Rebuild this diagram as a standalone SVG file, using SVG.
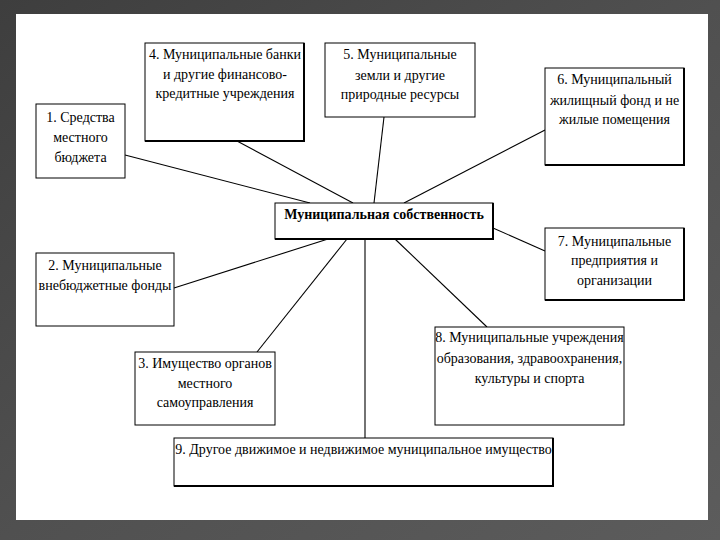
<svg xmlns="http://www.w3.org/2000/svg" width="720" height="540" viewBox="0 0 720 540">
<defs>
<linearGradient id="bg" x1="0" y1="0" x2="1" y2="1">
<stop offset="0" stop-color="#3e3e3e"/>
<stop offset="0.5" stop-color="#505050"/>
<stop offset="1" stop-color="#5c5c5c"/>
</linearGradient>
<style>
.box{fill:#ffffff;stroke:#000;stroke-width:1}
.sh{fill:none;stroke:#000;stroke-width:2}
.t{font-family:"Liberation Serif","Times New Roman",serif;font-size:14px;fill:#000;text-anchor:middle}
.b{font-weight:bold;font-size:14px}
.c line{stroke:#000;stroke-width:1.1}
</style>
</defs>
<rect x="0" y="0" width="720" height="540" fill="url(#bg)"/>
<rect x="16" y="14" width="692" height="506" fill="#ffffff"/>

<g class="c" id="connectors">
<line x1="125" y1="155" x2="310" y2="203"/>
<line x1="237" y1="141" x2="353" y2="203"/>
<line x1="384" y1="117" x2="374" y2="203"/>
<line x1="545" y1="130" x2="404" y2="203"/>
<line x1="493" y1="228" x2="545" y2="251"/>
<line x1="395" y1="239" x2="487" y2="327"/>
<line x1="365" y1="239" x2="365" y2="438"/>
<line x1="347" y1="239" x2="257" y2="352"/>
<line x1="328" y1="239" x2="174" y2="288"/>
</g>

<g id="n1">
<rect class="box" x="36" y="104" width="89" height="74"/>
<text class="t" x="80.5" y="122">1. Средства</text>
<text class="t" x="80.5" y="142">местного</text>
<text class="t" x="80.5" y="162">бюджета</text>
</g>

<g id="n4">
<rect class="box" x="145" y="43" width="159" height="98"/>
<polyline class="sh" points="145,141 304,141 304,43"/>
<text class="t" x="225" y="59">4. Муниципальные банки</text>
<text class="t" x="225" y="79">и другие финансово-</text>
<text class="t" x="225" y="98">кредитные учреждения</text>
</g>

<g id="n5">
<rect class="box" x="325" y="43" width="150" height="74"/>
<text class="t" x="400" y="59">5. Муниципальные</text>
<text class="t" x="400" y="80">земли и другие</text>
<text class="t" x="400" y="99">природные ресурсы</text>
</g>

<g id="n6">
<rect class="box" x="545" y="68" width="139" height="97"/>
<polyline class="sh" points="545,165 684,165 684,68"/>
<text class="t" x="614.5" y="84">6. Муниципальный</text>
<text class="t" x="614.5" y="105">жилищный фонд и не</text>
<text class="t" x="614.5" y="124">жилые помещения</text>
</g>

<g id="center">
<rect class="box" x="275" y="203" width="218" height="36"/>
<polyline class="sh" points="275,239 493,239 493,203"/>
<text class="t b" x="384" y="219">Муниципальная собственность</text>
</g>

<g id="n2">
<rect class="box" x="36" y="253" width="138" height="73"/>
<text class="t" x="105" y="270">2. Муниципальные</text>
<text class="t" x="105" y="290">внебюджетные фонды</text>
</g>

<g id="n7">
<rect class="box" x="545" y="228" width="139" height="72"/>
<polyline class="sh" points="545,300 684,300 684,228"/>
<text class="t" x="614.5" y="246">7. Муниципальные</text>
<text class="t" x="614.5" y="265">предприятия и</text>
<text class="t" x="614.5" y="285">организации</text>
</g>

<g id="n3">
<rect class="box" x="135" y="352" width="140" height="73"/>
<text class="t" x="205" y="368">3. Имущество органов</text>
<text class="t" x="205" y="388">местного</text>
<text class="t" x="205" y="407">самоуправления</text>
</g>

<g id="n8">
<rect class="box" x="435" y="327" width="189" height="98"/>
<text class="t" x="529.5" y="342">8. Муниципальные учреждения</text>
<text class="t" x="529.5" y="363">образования, здравоохранения,</text>
<text class="t" x="529.5" y="383">культуры и спорта</text>
</g>

<g id="n9">
<rect class="box" x="174" y="438" width="379" height="48"/>
<polyline class="sh" points="174,486 553,486 553,438"/>
<text class="t" x="363.5" y="454">9. Другое движимое и недвижимое муниципальное имущество</text>
</g>
</svg>
